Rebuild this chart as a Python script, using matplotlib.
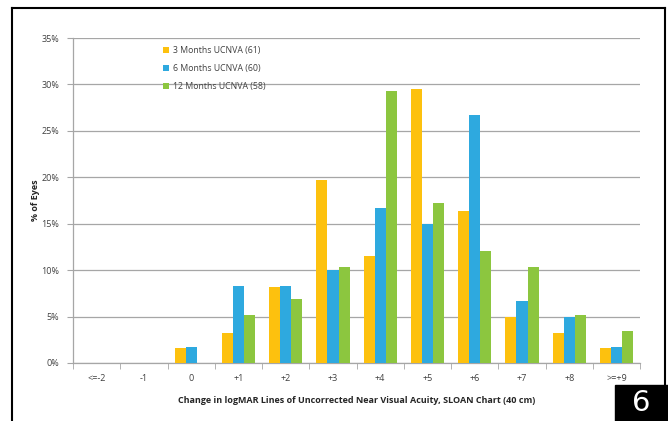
import matplotlib.pyplot as plt
import numpy as np
from matplotlib.patches import Rectangle
from matplotlib.lines import Line2D
from matplotlib.ticker import PercentFormatter

categories = ["<=-2", "-1", "0", "+1", "+2", "+3", "+4", "+5", "+6", "+7", "+8", ">=+9"]
series_names = ["3 Months UCNVA (61)", "6 Months UCNVA (60)", "12 Months UCNVA (58)"]
m3 = [0, 0, 1.64, 3.28, 8.20, 19.67, 11.48, 29.51, 16.39, 4.92, 3.28, 1.64]
m6 = [0, 0, 1.67, 8.33, 8.33, 10.00, 16.67, 15.00, 26.67, 6.67, 5.00, 1.67]
m12 = [0, 0, 0, 5.17, 6.90, 10.34, 29.31, 17.24, 12.07, 10.34, 5.17, 3.45]
colors = ["#FDC10E", "#2EA9DF", "#8CC63F"]

plt.rcParams["font.family"] = ["Open Sans", "DejaVu Sans"]

fig = plt.figure(figsize=(6.68, 4.21), dpi=100)
ax = fig.add_axes([0.1093, 0.1378, 0.849, 0.7719])

x = np.arange(len(categories))
w = 0.235
for i, (vals, name, c) in enumerate(zip([m3, m6, m12], series_names, colors)):
    ax.bar(x + (i - 1) * w, vals, width=w, color=c, label=name,
           edgecolor="none", zorder=3)

ax.set_xlim(-0.5, len(categories) - 0.5)
ax.set_ylim(0, 35)
ax.set_yticks(range(0, 36, 5))
ax.yaxis.set_major_formatter(PercentFormatter(decimals=0))
ax.grid(axis="y", color="#a6a6a6", linewidth=0.9, zorder=0)
for s in ["top", "right"]:
    ax.spines[s].set_visible(False)
for s in ["left", "bottom"]:
    ax.spines[s].set_color("#a6a6a6")
    ax.spines[s].set_linewidth(0.9)

ax.set_xticks(x)
ax.set_xticklabels(categories)
ax.set_xticks(np.arange(-0.5, len(categories), 1), minor=True)
ax.tick_params(axis="x", which="major", length=0, labelsize=6.5,
               labelcolor="#404040", pad=8)
ax.tick_params(axis="x", which="minor", length=4, color="#a6a6a6")
ax.tick_params(axis="y", length=4, color="#a6a6a6", labelsize=6.5,
               labelcolor="#404040", pad=6)

ax.set_xlabel("Change in logMAR Lines of Uncorrected Near Visual Acuity, SLOAN Chart (40 cm)",
              fontsize=6.5, fontweight="bold", color="#262626", labelpad=9)
ax.set_ylabel("% of Eyes", fontsize=6.5, fontweight="bold", color="#262626",
              labelpad=1)

ax.legend(loc="upper left", bbox_to_anchor=(0.145, 1.0), frameon=False,
          fontsize=6.3, handlelength=0.7, handleheight=0.7, handletextpad=0.4,
          labelspacing=1.05, labelcolor="#404040")

# outer frame and figure number box
fig.add_artist(Line2D([0.018, 0.018], [0, 0.981], color="black", lw=1.5,
                      transform=fig.transFigure))
fig.add_artist(Line2D([0.018, 0.9955], [0.981, 0.981], color="black", lw=1.5,
                      transform=fig.transFigure))
fig.add_artist(Line2D([0.9955, 0.9955], [0.981, 0.08], color="black", lw=1.5,
                      transform=fig.transFigure))
fig.add_artist(Rectangle((0.9207, 0), 0.0793, 0.0855, color="black",
                         transform=fig.transFigure))
fig.text(0.9605, 0.042, "6", color="white", fontsize=21, ha="center",
         va="center", family="DejaVu Sans")

fig.savefig("out.png", dpi=100)
